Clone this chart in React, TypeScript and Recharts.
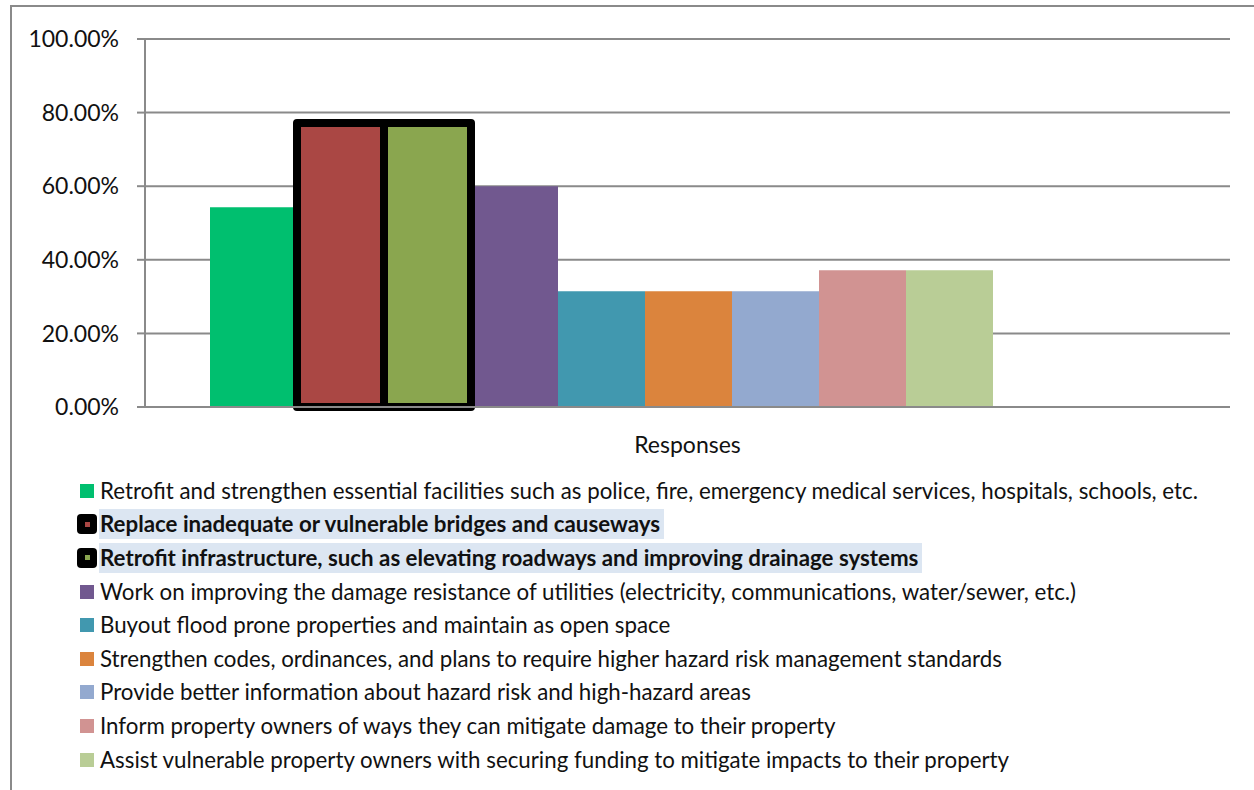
import { BarChart, Bar, XAxis, YAxis, CartesianGrid } from 'recharts';

const categories = ['Responses'];

const seriesNames = [
  'Retrofit and strengthen essential facilities such as police, fire, emergency medical services, hospitals, schools, etc.',
  'Replace inadequate or vulnerable bridges and causeways',
  'Retrofit infrastructure, such as elevating roadways and improving drainage systems',
  'Work on improving the damage resistance of utilities (electricity, communications, water/sewer, etc.)',
  'Buyout flood prone properties and maintain as open space',
  'Strengthen codes, ordinances, and plans to require higher hazard risk management standards',
  'Provide better information about hazard risk and high-hazard areas',
  'Inform property owners of ways they can mitigate damage to their property',
  'Assist vulnerable property owners with securing funding to mitigate impacts to their property',
];

// percent of respondents, one value per series for the single category
const seriesValues = [54.29, 77.14, 77.14, 60.0, 31.43, 31.43, 31.43, 37.14, 37.14];

const seriesColors = [
  '#00BF6F',
  '#AA4744',
  '#8AA64F',
  '#71588F',
  '#4198AF',
  '#DB843D',
  '#93A9CF',
  '#D19392',
  '#B9CD96',
];

const highlighted = [1, 2];

const yTicks = [0, 20, 40, 60, 80, 100];

const data = categories.map((category) => {
  const row: Record<string, string | number> = { category };
  seriesValues.forEach((v, i) => {
    row['s' + i] = v;
  });
  return row;
});

const GRID = '#8a8a8a';

const OutlinedBar = (props: any) => {
  const { x, y, width, height, fill } = props;
  return (
    <rect
      x={x}
      y={y}
      width={width}
      height={height}
      fill={fill}
      stroke='#000'
      strokeWidth={8}
      strokeLinejoin='round'
    />
  );
};

const LegendRows = () => (
  <div
    style={{
      position: 'absolute',
      left: 0,
      top: 474,
      fontFamily: 'Lato, sans-serif',
      fontSize: 22.3,
      color: '#111',
    }}
  >
    {seriesNames.map((name, i) => {
      const hl = highlighted.includes(i);
      return (
        <div
          key={name}
          style={{ height: 33.6, display: 'flex', alignItems: 'center', position: 'relative' }}
        >
          {hl ? (
            <div
              style={{
                position: 'absolute',
                left: 77,
                width: 20,
                height: 20,
                borderRadius: 4,
                background: '#000',
                display: 'flex',
                alignItems: 'center',
                justifyContent: 'center',
              }}
            >
              <div style={{ width: 5, height: 5, background: seriesColors[i] }} />
            </div>
          ) : (
            <div
              style={{
                position: 'absolute',
                left: 80,
                width: 14,
                height: 14,
                background: seriesColors[i],
              }}
            />
          )}
          <span
            style={{
              position: 'absolute',
              left: 99,
              paddingLeft: 1,
              paddingRight: 4,
              height: 30,
              lineHeight: '30px',
              whiteSpace: 'nowrap',
              fontWeight: hl ? 700 : 400,
              background: hl ? '#DCE6F2' : 'transparent',
            }}
          >
            {name}
          </span>
        </div>
      );
    })}
  </div>
);

export default function App() {
  return (
    <div
      style={{
        position: 'absolute',
        left: 0,
        top: 0,
        width: 1254,
        height: 790,
        overflow: 'hidden',
        background: '#fff',
        fontFamily: 'Lato, sans-serif',
      }}
    >
      <div
        style={{
          position: 'absolute',
          left: 10,
          top: 5,
          width: 1300,
          height: 900,
          borderTop: `2px solid ${GRID}`,
          borderLeft: `2px solid ${GRID}`,
        }}
      />
      <div style={{ position: 'absolute', left: 0, top: 0 }}>
        <BarChart
          width={1254}
          height={460}
          data={data}
          margin={{ top: 39, right: 24, left: 0, bottom: 0 }}
          barCategoryGap={65}
          barGap={0}
        >
          <CartesianGrid vertical={false} stroke={GRID} strokeWidth={2} />
          <XAxis
            dataKey='category'
            height={53}
            tick={false}
            tickLine={false}
            axisLine={{ stroke: GRID, strokeWidth: 2 }}
            padding={{ left: 0, right: 174 }}
            label={{
              value: 'Responses',
              position: 'insideTop',
              offset: 30,
              fill: '#111',
              fontSize: 23,
            }}
          />
          <YAxis
            width={145}
            domain={[0, 100]}
            ticks={yTicks}
            interval={0}
            tickSize={8}
            tickMargin={18}
            tickFormatter={(v: number) => v.toFixed(2) + '%'}
            tick={{ fill: '#111', fontSize: 23 }}
            tickLine={{ stroke: GRID, strokeWidth: 2 }}
            axisLine={{ stroke: GRID, strokeWidth: 2 }}
          />
          {seriesValues.map((_, i) => {
            const hl = highlighted.includes(i);
            return (
              <Bar
                key={i}
                dataKey={'s' + i}
                name={seriesNames[i]}
                fill={seriesColors[i]}
                isAnimationActive={false}
                shape={hl ? OutlinedBar : undefined}
                {...(hl ? { zIndex: 350 } : {})}
              />
            );
          })}
        </BarChart>
      </div>
      <LegendRows />
    </div>
  );
}
